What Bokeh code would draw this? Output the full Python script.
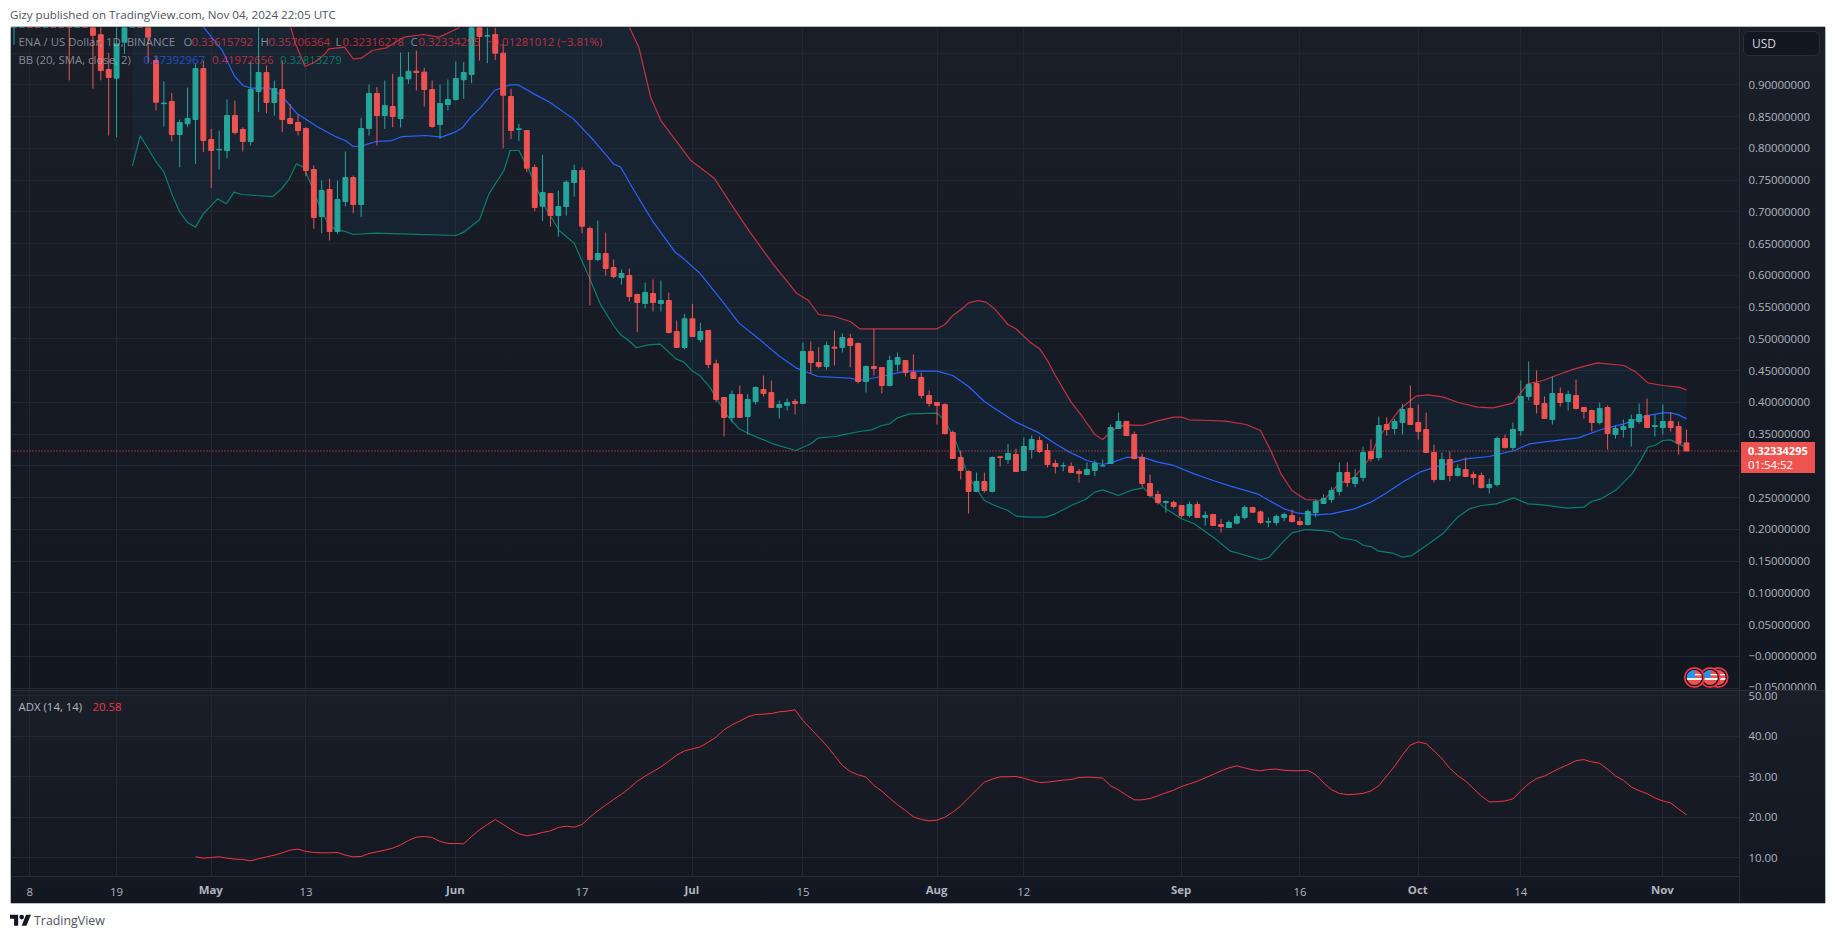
from bokeh.plotting import figure
from bokeh.layouts import column
from bokeh.models import (Div, Label, Span, FixedTicker, Range1d)
from bokeh.embed import file_html
from bokeh.resources import INLINE
import math

# ---- candles, one per day, Apr 2 -> Nov 4 2024 (day 0 = Apr 8). Off-chart ones are above the visible range.
first_day = -6
o = [1.25,1.30,1.20,1.12,1.05,1.15,1.2,1.12,1.08,1.14,1.1,1.06,1.02,1.08,1.05,.979,.924,.9105,.9672,1.02,1.06,1.03,
     .9383,.8704,.8737,.8218,.8386,.8454,.9257,.8139,.7976,.7966,.8517,.8297,.8107,.8895,.9194,.8722,.8926,.847,.8407,.8312,.7667,.6926,.7352,.669,.7163,.754,.7115,.8312,.8863,.8517,.8659,.847,
     .9094,.9215,.92,.8926,.8375,.869,.8769,.908,.9163,1.02,.9767,.9793,.9499,.8816,.8297,.828,.7698,.7089,.7289,.6942,.7084,.7462,.7651,.6737,.6249,.6344,.6123,.5966,.5997,.5698,.5556,.5714,.5556,.5604,
     .5116,.4864,.5315,.4987,.5132,.4607,.4076,.3762,.4124,.3777,.4013,.4202,.4155,.3919,.3951,.4013,.3982,.4801,.4628,.4565,.4869,.4864,.5006,.4927,.4328,.4565,.4549,.4265,.4601,.4659,.447,.4391,.4108,.3998,.3966,.3525,.3132,.2911,
     .2596,.2754,.2596,.3142,.31,.3179,.2927,.3258,.3399,.3242,.3037,.3,.299,.2911,.2864,.2927,.3,.3037,.3588,.3699,.3494,.3132,.2722,.2549,.2421,.2423,.2375,.2218,.2391,.2187,.2234,.2076,.2029,.2097,
     .2186,.2344,.2275,.2113,.2107,.2186,.2218,.2123,.2076,.2265,.2407,.247,.2596,.2895,.2722,.2816,.3225,.313,.3651,.3588,.3682,.3903,.3682,.3572,.321,.2784,.3099,.2847,.2942,.2863,.2847,.2658,.2706,.343,.3288,.3556,.4092,.4296,.3981,.3729,.4139,.4013,.4107,.3918,.3871,.3682,.3918,.3493,.3572,.3603,.3698,.3792,.3619,.3603,.3698,.3619,.33615792]
h = [1.45,1.40,1.30,1.22,1.2,1.25,1.3,1.2,1.18,1.22,1.2,1.12,1.1,1.14,1.08,1.02,.9504,1.02,1.04,1.1,1.1,1.06,
     .9462,.9052,.8869,.8454,.8958,.933,.9383,.8307,.8281,.8769,.8753,.8333,.9357,1.0,.9304,.9068,.9383,.8701,.8533,.8333,.773,.7493,.752,.7493,.795,.7572,.848,.9005,.8963,.9068,.9173,.951,
     .9514,.954,.9267,.9068,.9005,.9084,.9367,.9357,1.03,1.04,.99,.99,.9646,.8937,.8386,.8285,.7745,.7898,.7289,.7336,.7493,.7745,.7698,.6769,.6863,.6674,.6249,.6092,.6107,.5714,.5887,.5934,.5919,.5729,
     .5289,.5394,.5552,.5252,.5132,.467,.4076,.4187,.4265,.4134,.425,.4423,.4344,.4029,.4061,.4055,.4943,.4958,.4869,.4958,.5131,.5084,.5079,.4943,.458,.5158,.4549,.4738,.4785,.4659,.4754,.447,.4187,.3998,.3982,.3557,.3242,.2927,
     .2895,.2895,.3147,.3158,.3347,.3268,.3447,.3478,.3462,.3347,.3095,.3053,.3053,.2953,.3053,.3084,.31,.3651,.384,.3699,.3541,.3189,.2864,.2612,.2454,.2454,.2375,.2438,.2438,.2281,.2244,.2166,.214,.2244,
     .2375,.2354,.2296,.2186,.2233,.2265,.2312,.2186,.2312,.247,.2554,.2664,.3052,.3057,.295,.3304,.3414,.3777,.3761,.374,.3976,.4265,.3966,.384,.3336,.321,.3225,.3021,.3131,.291,.2895,.28,.3462,.3493,.3682,.4344,.4643,.4501,.4092,.4407,.4233,.4186,.4359,.3918,.3887,.3997,.395,.3635,.3729,.3808,.3981,.406,.3808,.3966,.384,.3698,.35706364]
l = [1.15,1.15,1.08,1.02,.963,1.05,1.1,1.04,1.03,1.06,1.02,.907,1.0,1.02,.894,.907,.8202,.8175,.9488,1.0,1.0,.935,
     .8596,.8344,.8108,.7703,.8333,.7756,.794,.7373,.7667,.7845,.8218,.795,.8045,.8569,.8554,.8517,.8254,.8375,.8202,.7562,.6732,.6664,.6548,.6653,.7084,.6979,.6916,.82,.8045,.8307,.8333,.8328,
     .9016,.891,.8659,.8323,.8149,.8596,.8753,.878,.9026,.9383,.9341,.9393,.8,.8149,.8113,.7625,.701,.6853,.6769,.6611,.6942,.7241,.6664,.5525,.6223,.5997,.5955,.5856,.5588,.5105,.5478,.543,.543,.5084,
     .4864,.4838,.5027,.4943,.4538,.4003,.3462,.3688,.3762,.3494,.3966,.4092,.3919,.3746,.3872,.3809,.3982,.446,.4533,.4517,.458,.4785,.4554,.4297,.4155,.4423,.4139,.425,.4486,.4407,.4376,.4061,.3935,.3651,.3494,.3116,.2785,.225,
     .2596,.258,.258,.299,.3032,.2911,.2927,.3116,.32,.2974,.288,.2916,.2895,.2738,.2864,.2838,.2995,.3037,.3588,.3478,.31,.2659,.2502,.2391,.2265,.2328,.2187,.2187,.2187,.2061,.2061,.1951,.2029,.2076,
     .2155,.226,.2081,.2034,.206,.2128,.2107,.206,.206,.2186,.2407,.2422,.2532,.2664,.2664,.2753,.3068,.3084,.3477,.3493,.3493,.3651,.3414,.321,.2737,.2784,.2753,.2832,.2832,.2706,.2643,.2564,.2674,.3273,.3241,.3477,.4029,.3824,.3745,.3651,.3934,.3871,.3887,.3745,.354,.3651,.3257,.343,.3446,.3304,.3666,.3603,.3462,.3493,.354,.3178,.32316278]
c = [1.30,1.20,1.12,1.10,1.15,1.2,1.12,1.08,1.14,1.1,1.06,1.02,1.08,1.05,.978,.9225,.9115,.9645,1.02,1.06,1.03,.975,
     .8727,.8714,.8218,.8407,.847,.9257,.8123,.7966,.7982,.8517,.8249,.8107,.8926,.9194,.8722,.8942,.8454,.8391,.828,.7651,.6911,.7336,.669,.7194,.754,.7115,.8312,.8863,.8517,.8674,.8501,.912,
     .9215,.9194,.8926,.8344,.8706,.8769,.91,.9194,1.01,.9761,.9775,.9499,.8837,.8281,.8307,.7688,.7068,.7304,.6942,.7084,.7467,.7651,.6774,.6249,.6344,.6107,.5981,.6029,.5667,.5572,.5729,.5572,.5604,.51,
     .4864,.5315,.5037,.5116,.4596,.4045,.3762,.4124,.3762,.4045,.4234,.4139,.3919,.3966,.3998,.3982,.4801,.4628,.4565,.4895,.4853,.5021,.4895,.4328,.4565,.4533,.4265,.4659,.4706,.447,.4376,.4108,.3982,.3951,.3509,.3116,.2927,.2596,
     .2754,.2612,.3132,.3132,.3195,.2911,.3305,.3415,.3226,.3021,.299,.3,.2895,.288,.2943,.3037,.3,.3604,.3699,.3478,.3116,.2722,.2533,.2423,.2438,.236,.2218,.2391,.2187,.2218,.2061,.2045,.2108,.2202,
     .2344,.227,.2107,.2123,.2202,.2233,.2123,.2076,.2281,.2438,.2485,.2611,.2895,.2737,.2816,.321,.3115,.3635,.3572,.3698,.3887,.3651,.354,.321,.2784,.3099,.2847,.2958,.2832,.2816,.2658,.2706,.343,.3288,.3572,.4092,.4281,.3966,.3745,.4139,.3997,.4123,.3903,.3855,.3682,.3903,.3509,.3588,.3619,.3729,.3808,.3603,.3635,.3698,.3603,.3351,.32334295]

# ---- Bollinger bands read as (day, price)
bb_mid_d = [13,18,22.1,24.4,25.9,27,28.1,30.4,31.9,33.9,36.4,38.9,40,41,42,43.9,45.9,47.2,50.2,52.2,53.9,54.9,55.9,57.2,58.9,60.9,61.9,63.9,65.9,68.9,71.5,74,74.9,76.6,78.9,81.8,82.9,85,87.7,89.9,92.4,94.9,97.2,99.9,104,105.2,108,110,111.5,115,117,119,121,123,125,128,130,131.8,134,136,137.3,139,141,143,145,147.6,150,152.2,155.6,157.1,159,160.8,163,165,167.9,170,171.8,174.2,176.2,178.1,182,185,188.2,190.1,192.8,196.3,199.2,202.1,205,207,208,209,210]
bb_mid_p = [1.05,1.03,.9898,.9541,.9147,.899,.8947,.8947,.8832,.8543,.8344,.8176,.8123,.8029,.8034,.8108,.8123,.8186,.8202,.8176,.8255,.8333,.8491,.8648,.891,.9,.9,.8858,.8727,.8464,.8123,.7756,.7703,.7336,.6863,.6365,.626,.6024,.5604,.5247,.5,.4738,.4538,.4407,.4381,.4344,.4407,.4465,.4491,.4491,.4423,.425,.4013,.3846,.3688,.3515,.3347,.3216,.3084,.3021,.3058,.3132,.3137,.3058,.3006,.2874,.2769,.268,.2559,.2454,.2323,.2254,.2228,.2244,.2323,.2428,.2559,.2758,.29,.2979,.311,.3147,.3241,.3346,.3388,.3441,.3572,.3661,.3792,.3834,.3834,.3803,.37392967]
bb_up_d = [13,20,30,33,33.6,34.9,36.1,37.4,37.9,39.9,41,42,43.4,45.2,47.4,49.9,51.9,54.4,57,65,72,76.1,77.2,78.7,80,83.8,86.8,89,91.2,94.2,97.2,98.7,100,102,104,105.2,109,115,116,117,118,119,120.2,121.2,122.3,124,125,126.8,128,129,130,132,133.3,135,136,137,137.8,139,141,142.8,145,146,147,149.6,151.6,154.2,156,157.3,158.6,160,161.7,164,165.9,167.9,169.8,171,173.7,175.7,177.2,179.1,181,183.5,185.5,188,188.7,189.9,191.8,193.8,195.8,198.7,202.1,203.6,205.1,207,209,210]
bb_up_p = [1.2,1.25,1.1,.995,.9672,.9289,.9357,.9488,.9567,.9593,.9409,.942,.9541,.9583,.9751,.9793,.9751,.9898,1.08,1.2,1.08,.9882,.9593,.8806,.8438,.7808,.7525,.7101,.6696,.618,.5718,.5604,.5383,.5352,.5273,.5158,.5158,.5158,.5226,.5368,.5457,.5567,.5604,.5578,.5473,.5226,.5158,.4948,.4843,.4659,.4423,.4003,.3793,.3494,.3415,.3531,.3609,.3646,.3636,.3704,.3767,.3767,.3725,.3714,.3704,.3651,.3556,.3241,.2874,.2611,.247,.2454,.2716,.2821,.311,.3451,.3897,.4097,.4118,.4086,.4002,.3924,.3913,.3987,.4107,.4291,.4344,.4438,.4527,.4622,.458,.4475,.4307,.4265,.4239,.41972656]
bb_lo_d = [13,14,14.9,15.9,17,18,19,20,21,22,23.8,24.9,25.9,26.8,28.7,30.8,31.9,32.9,33.8,34.7,35.8,36.8,37.8,38.9,39.9,41,43.9,46.9,54,55,57,58.2,60.1,60.9,62,63.2,65.2,67.1,68.1,69,70.9,72.3,74,74.9,75.9,76.9,78.4,79.9,81.9,82.9,83.9,84.9,86.2,87.2,88.4,89.9,91.2,94.2,97.1,99,100,102.2,103,105.2,106.7,108,109,110,111.5,115,116,117.5,119,121,122.3,124,125,126.5,128.8,130,132,133.8,135,136,138,139.8,141.2,142.3,144,146,147.6,150,152.2,154.2,156,157.1,158.6,160,161.7,164,165.2,166.2,168.1,169.1,170,171,172.8,174,175.2,177.2,179.1,181,182.5,184,185.9,188.1,189.9,191.8,194.8,197,198,199.2,201.1,203.1,204.3,205.1,206,207,208,209,210]
bb_lo_p = [.7724,.8197,.8018,.7808,.7625,.7283,.6995,.6832,.6759,.6968,.7205,.7126,.731,.7273,.7257,.7241,.7362,.752,.7756,.7703,.7388,.7073,.6811,.6706,.6695,.6643,.6664,.6653,.6627,.668,.6874,.7283,.7651,.7966,.7966,.7677,.71,.6706,.6601,.6507,.5971,.5551,.521,.5063,.4974,.4859,.4906,.4916,.4685,.4633,.4502,.4423,.4239,.4029,.3793,.3583,.3504,.3347,.3242,.3347,.3441,.3462,.3488,.3541,.3567,.3635,.3662,.3756,.3819,.383,.3714,.3347,.2822,.2454,.2376,.2297,.2208,.2192,.2192,.2244,.2376,.247,.2586,.2622,.2533,.2622,.2654,.2507,.2323,.2166,.2087,.1877,.1656,.1588,.152,.1561,.1771,.1945,.1997,.1981,.1955,.1866,.1824,.1745,.1729,.1656,.1624,.1561,.1587,.1761,.1929,.2191,.2323,.2375,.2401,.2496,.2401,.2386,.2333,.2349,.2443,.248,.2622,.2874,.311,.3294,.332,.3399,.3409,.3346,.32813279]

# ---- ADX, one value per day from day 21 (Apr 29)
adx_first_day = 21
adx = [10.24,9.91,10.07,10.24,9.91,9.66,9.58,9.25,9.75,10.24,10.65,11.23,11.89,12.13,11.56,11.31,11.23,11.23,11.31,10.65,10.24,10.32,11.06,11.47,11.89,12.38,13.2,14.27,15.1,15.26,15.01,14.03,13.53,13.53,13.45,15.26,16.91,18.22,19.46,18.22,16.99,15.92,15.43,15.75,16.25,16.66,17.48,17.81,17.56,18.22,20.03,21.6,23.0,24.4,25.7,27.2,28.9,30.16,31.3,32.46,33.86,35.34,36.41,36.9,37.4,38.55,
       39.79,41.6,42.83,43.74,44.81,45.38,45.47,45.63,46.04,46.21,46.54,43.9,41.84,39.79,37.73,35.26,32.79,31.31,30.49,29.91,27.85,26.45,24.73,23.08,21.68,20.12,19.46,19.13,19.29,20.03,21.27,22.83,24.81,26.78,28.68,29.42,30.0,30.0,30.08,29.66,29.09,28.59,28.68,28.92,29.17,29.33,29.83,29.91,29.83,29.66,27.77,26.78,25.47,24.31,24.31,24.64,25.3,26.04,26.7,27.61,28.26,28.92,29.75,30.57,31.47,
       32.2,32.7,32.2,31.7,31.5,31.8,31.9,31.6,31.5,31.5,31.6,30.5,28.5,26.8,25.9,25.6,25.7,25.9,26.5,27.8,30.2,32.6,35.4,37.86,38.6,38.19,36.4,34.49,32.1,30.29,28.97,27.08,25.27,23.79,23.87,24.03,24.53,26.5,28.31,29.55,30.2,31.19,32.18,33.0,33.99,34.24,33.66,33.33,31.85,30.2,29.14,27.49,26.58,25.84,24.77,24.03,23.54,22.06,20.58]

# ---- axes
price_ticks = [-0.05,0.0,0.05,0.1,0.15,0.2,0.25,0.3,0.35,0.4,0.45,0.5,0.55,0.6,0.65,0.7,0.75,0.8,0.85,0.9,0.95]
price_labels = ["\u22120.05000000","\u22120.00000000","0.05000000","0.10000000","0.15000000","0.20000000","0.25000000","0.30000000","0.35000000","0.40000000","0.45000000","0.50000000","0.55000000","0.60000000","0.65000000","0.70000000","0.75000000","0.80000000","0.85000000","0.90000000",""]
adx_ticks = [10,20,30,40,50]
adx_labels = ["10.00","20.00","30.00","40.00","50.00"]
date_ticks = [0,11,23,35,54,70,84,98,115,126,146,161,176,189,207]
date_labels = ["8","19","May","13","Jun","17","Jul","15","Aug","12","Sep","16","Oct","14","Nov"]
month_names = {"May","Jun","Jul","Aug","Sep","Oct","Nov"}
event_days = [214,213,211]     # economic-event flags
event_price = -0.0333
last_close = 0.32334295

# ---- style
UP, DOWN = "#26a69a", "#ef5350"
GRID = "#232733"
AXIS_TXT = "#b2b5be"
FONT = "Open Sans"
FS = "11.4px"
EDGE = "#b8bbc4"
SEP = "#2a2e39"
X0, X1 = -2.32, 216.72
XR = Range1d(X0, X1)

days = list(range(first_day, first_day + len(c)))
up = [i for i in range(len(c)) if c[i] >= o[i]]
dn = [i for i in range(len(c)) if c[i] < o[i]]


def base_style(p):
    p.background_fill_alpha = 0
    p.border_fill_alpha = 0
    p.outline_line_color = None
    p.xgrid.ticker = FixedTicker(ticks=date_ticks)
    p.xgrid.grid_line_color = GRID
    p.ygrid.grid_line_color = GRID
    ax = p.yaxis[0]
    ax.major_tick_line_color = None
    ax.minor_tick_line_color = None
    ax.axis_line_color = SEP
    ax.major_label_text_color = AXIS_TXT
    ax.major_label_text_font = FONT
    ax.major_label_text_font_size = FS
    ax.major_label_standoff = 3


# ==== main pane
p1 = figure(width=1814, height=663, x_range=XR, y_range=Range1d(-0.0538, 0.9903), y_axis_location="right",
            toolbar_location=None, output_backend="svg", min_border_left=0, min_border_right=86,
            min_border_top=0, min_border_bottom=0, margin=(0, 0, 0, 3))
p1.xaxis.visible = False
base_style(p1)
p1.yaxis[0].ticker = FixedTicker(ticks=price_ticks)
p1.yaxis[0].major_label_overrides = dict(zip(price_ticks, price_labels))
p1.ygrid.ticker = FixedTicker(ticks=price_ticks)
p1.styles = {
    "background": "linear-gradient(#1a1e29, #131722)",
    "box-shadow": f"-1px 0 0 {EDGE}, 1px 0 0 {EDGE}, 0 -1px 0 {EDGE}",
}

# band fill
p1.patch(bb_up_d + bb_lo_d[::-1], bb_up_p + bb_lo_p[::-1], fill_color="#2196f3", fill_alpha=0.06, line_color=None)

p1.line(bb_up_d, bb_up_p, line_color="#f23645", line_width=1.2, line_alpha=0.8)
p1.line(bb_lo_d, bb_lo_p, line_color="#089981", line_width=1.2, line_alpha=0.8)
p1.line(bb_mid_d, bb_mid_p, line_color="#2962ff", line_width=1.2)

for idx, col in ((up, UP), (dn, DOWN)):
    dd = [days[i] for i in idx]
    p1.segment(dd, [h[i] for i in idx], dd, [l[i] for i in idx], line_color=col, line_width=1)
    p1.vbar(dd, width=0.62, bottom=[min(o[i], c[i]) for i in idx], top=[max(o[i], c[i]) for i in idx],
            fill_color=col, line_color=col, line_width=1)

p1.add_layout(Span(location=last_close, dimension="width", line_color=DOWN, line_width=1, line_dash="1 2"))

# flags
PX_X, PX_Y = 1 / 7.889, 1 / 635.0


def seg(cx, cy, r, y0, y1, x0=-99, x1=99):
    xs, ys = [], []
    n = 24
    for yy in [y0 + (y1 - y0) * k / n for k in range(n + 1)]:
        xx = math.sqrt(max(r * r - yy * yy, 0))
        xs.append(cx + min(max(xx, x0), x1) * PX_X)
        ys.append(cy + yy * PX_Y)
    for yy in [y1 + (y0 - y1) * k / n for k in range(n + 1)]:
        xx = -math.sqrt(max(r * r - yy * yy, 0))
        xs.append(cx + min(max(xx, x0), x1) * PX_X)
        ys.append(cy + yy * PX_Y)
    return xs, ys


for ed in event_days:
    p1.scatter([ed], [event_price], marker="circle", size=21, fill_color="#f23645", line_color=None)
    p1.scatter([ed], [event_price], marker="circle", size=17.5, fill_color="#131722", line_color=None)
    p1.scatter([ed], [event_price], marker="circle", size=15, fill_color="#ef5350", line_color=None)
    xs, ys = seg(ed, event_price, 7.5, -2.6, -0.4)
    p1.patch(xs, ys, fill_color="#f5f5f5", line_color=None)
    xs, ys = seg(ed, event_price, 7.5, 2.2, 3.6, x0=0)
    p1.patch(xs, ys, fill_color="#f5f5f5", line_color=None)
    xs, ys = seg(ed, event_price, 7.5, -0.4, 7.5, x1=0.5)
    p1.patch(xs, ys, fill_color="#2196f3", line_color=None)


def txt(p, x, y, text, color=AXIS_TXT, alpha=1.0, size=FS, style="normal", align="left"):
    """x, y: pixels on the figure's own canvas, y down"""
    p.add_layout(Label(x=x, y=y, x_units="canvas", y_units="canvas", text=text, text_color=color,
                       text_alpha=alpha, text_font=FONT, text_font_size=size, text_font_style=style,
                       text_align=align, text_baseline="middle", level="overlay"))


RED_T = "#f23645"
FR_L, FR_T = 11, 27  # figure origin on the page


def at(x, y):
    return x - FR_L, y - FR_T


A = 0.72
row1 = [(18, "ENA / US Dollar, 1D, BINANCE", AXIS_TXT), (183, "O", AXIS_TXT), (191, "0.33615792", RED_T),
        (260, "H", AXIS_TXT), (268, "0.35706364", RED_T), (335, "L", AXIS_TXT), (342, "0.32316278", RED_T),
        (410, "C", AXIS_TXT), (418, "0.32334295", RED_T), (485.6, "\u22120.01281012 (\u22123.81%)", RED_T)]
for x, t, col in row1:
    txt(p1, *at(x, 41), t, col, A)
row2 = [(18, "BB (20, SMA, close, 2)", AXIS_TXT), (143, "0.37392967", "#2962ff"),
        (211.5, "0.41972656", "#f23645"), (279.6, "0.32813279", "#089981")]
for x, t, col in row2:
    txt(p1, *at(x, 59), t, col, A)

# ==== ADX pane
p2 = figure(width=1814, height=213, x_range=XR, y_range=Range1d(5.38, 51.06), y_axis_location="right",
            toolbar_location=None, output_backend="svg", min_border_left=0, min_border_right=86,
            min_border_top=1, min_border_bottom=27, margin=(0, 0, 0, 3))
base_style(p2)
xax = p2.xaxis[0]
xax.ticker = FixedTicker(ticks=date_ticks)
xax.major_label_overrides = {d: ("" if t in month_names else t) for d, t in zip(date_ticks, date_labels)}
xax.major_tick_line_color = None
xax.minor_tick_line_color = None
xax.axis_line_color = SEP
xax.major_label_text_color = AXIS_TXT
xax.major_label_text_font = FONT
xax.major_label_text_font_size = FS
xax.major_label_standoff = 5
p2.yaxis[0].ticker = FixedTicker(ticks=adx_ticks)
p2.yaxis[0].major_label_overrides = dict(zip(adx_ticks, adx_labels))
p2.ygrid.ticker = FixedTicker(ticks=adx_ticks)
p2.styles = {
    "background": f"linear-gradient({SEP},{SEP}) no-repeat 1728px 0 / 1px 100%, "
                  f"linear-gradient({SEP},{SEP}) no-repeat 0 0 / 100% 1px, "
                  "linear-gradient(#1a1e29, #131722)",
    "box-shadow": f"-1px 0 0 {EDGE}, 1px 0 0 {EDGE}, 0 1px 0 {EDGE}",
}
p2.line(list(range(adx_first_day, adx_first_day + len(adx))), adx, line_color="#f23645", line_width=1)
txt(p2, 18 - 11, 706 - 690, "ADX (14, 14)", AXIS_TXT, 1)
txt(p2, 92 - 11, 706 - 690, "20.58", "#f23645", 1)

# ==== header strip; it also carries the tags that sit outside the plot frames (page position = origin + left/top)
OX, OY = 10, 20


def pos(x, y, inner, extra=""):
    return (f'<span style="position:absolute;left:{x - OX}px;top:{y - OY}px;white-space:nowrap;line-height:14px;'
            f"font-family:'Open Sans';font-size:{FS};{extra}\">{inner}</span>")


def day_x(d):
    return 11 + (d - X0) / (X1 - X0) * 1728


over = [pos(10, 8, "Gizy published on TradingView.com, Nov 04, 2024 22:05 UTC", "color:#50535e;font-size:11.6px")]
over.append(f'<div style="position:absolute;left:{1743 - OX}px;top:{31 - OY}px;width:77px;height:25px;'
            'background:#131722;border:1px solid #2a2e39;border-radius:6px"></div>')
over.append(pos(1752, 37, "USD", "color:#d1d4dc;font-size:12px"))
over.append(f'<div style="position:absolute;left:{1741 - OX}px;top:{442 - OY}px;width:74px;height:31px;background:#ef5350"></div>')
over.append(pos(1748, 444, f"{last_close:.8f}", "color:#ffffff;font-weight:700;font-size:11px"))
over.append(pos(1748, 458, "01:54:52", "color:#ffffff"))
for d, t in zip(date_ticks, date_labels):
    if t in month_names:
        over.append(pos(day_x(d), 883, t, f"color:{AXIS_TXT};font-weight:700;transform:translateX(-50%)"))

header = Div(text='<div style="position:relative;width:0;height:0">' + "".join(over) + "</div>",
             width=600, height=19, margin=(0, 0, 0, 2),
             styles={"overflow": "visible", "position": "relative", "z-index": "5"})

logo = ('<svg width="21" height="12" viewBox="0 0 36 20" style="vertical-align:-1px;margin-right:3px">'
        '<path fill="#131722" d="M14 20H7V8H0V1h14zM28 20h-8L27.5 1H36z"/><circle cx="20" cy="5" r="4" fill="#131722"/></svg>')
footer = Div(text=logo + '<span style="font-family:\'Open Sans\';font-size:12.4px;color:#50535e">TradingView</span>',
             width=300, height=24, margin=(9, 0, 0, 2))

page = column(header, p1, p2, footer, spacing=0, margin=(8, 0, 0, 8))
open("out.html", "w").write(file_html(page, INLINE))
